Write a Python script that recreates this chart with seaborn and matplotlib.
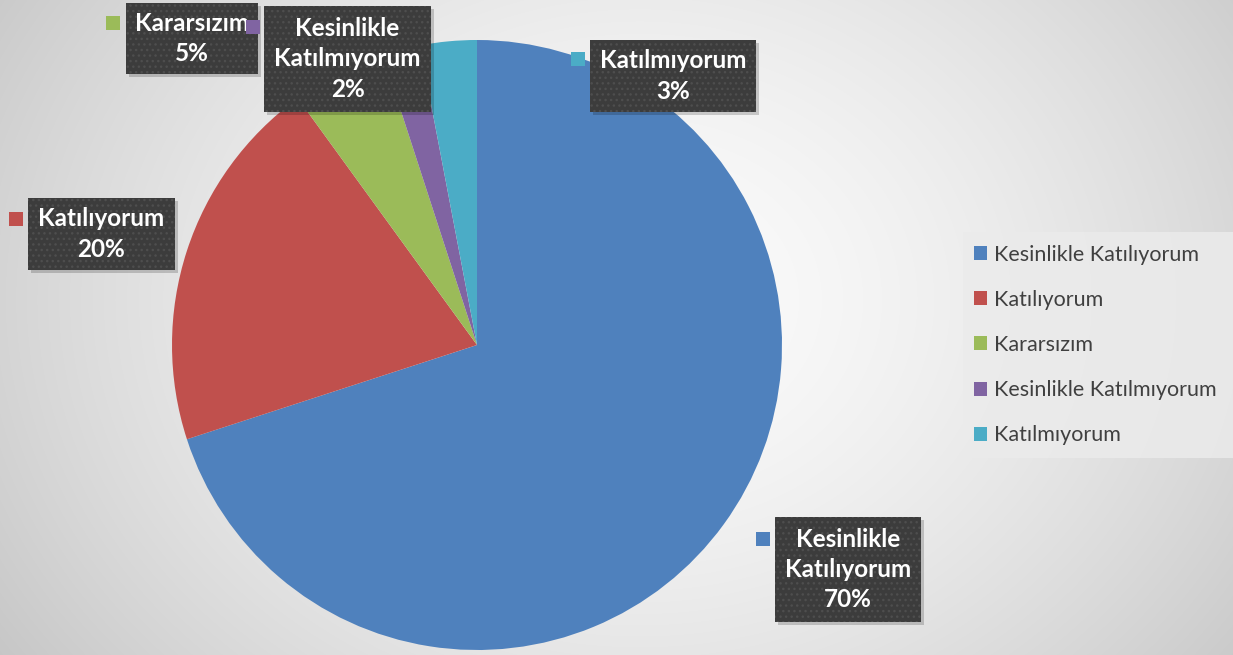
import numpy as np
import matplotlib
matplotlib.use("Agg")
import matplotlib.pyplot as plt
from matplotlib.patches import Rectangle, Patch
import seaborn as sns

# ---- data ----
categories = ["Kesinlikle Katılıyorum", "Katılıyorum", "Kararsızım",
              "Kesinlikle Katılmıyorum", "Katılmıyorum"]
values = [70, 20, 5, 2, 3]
label_text = ["Kesinlikle\nKatılıyorum\n70%", "Katılıyorum\n20%", "Kararsızım\n5%",
              "Kesinlikle\nKatılmıyorum\n2%", "Katılmıyorum\n3%"]
colors = ["#4F81BD", "#C0504D", "#9BBB59", "#8064A2", "#4BACC6"]

# ---- layout (pixel coords, origin top-left) ----
W, H = 1233, 655
pie_center = (477, 345)
pie_radius = 305
# label boxes: (x0, y0, x1, y1)
label_boxes = [(775, 517, 921, 622), (28, 198, 175, 270), (126, 3, 258, 74),
               (264, 6, 431, 112), (590, 40, 756, 112)]
# marker squares: (x0, y0)
marker_pos = [(756, 532), (9, 212), (106, 16), (246, 20), (571, 52)]
marker_size = 14

sns.set_theme(style="white")
plt.rcParams["font.family"] = ["Lato", "DejaVu Sans"]

fig = plt.figure(figsize=(W / 100, H / 100), dpi=100)
ax = fig.add_axes([0, 0, 1, 1])

def Y(y):
    return H - y

# background radial gradient
xx, yy = np.meshgrid(np.arange(W) + 0.5, np.arange(H) + 0.5)
r = np.sqrt(((xx - 640) / 760) ** 2 + ((yy - 300) / 620) ** 2)
g = 0.985 - 0.20 * np.clip(r, 0, 1.3) ** 1.6
img = np.dstack([g, g, g])
ax.imshow(img, extent=(0, W, 0, H), origin="upper", zorder=0, interpolation="bilinear")

# pie
ax.pie(values, colors=colors, startangle=90, counterclock=False,
       center=(pie_center[0], Y(pie_center[1])), radius=pie_radius,
       wedgeprops=dict(linewidth=0), frame=True)

# label boxes
for (x0, y0, x1, y1), txt, (mx, my), c in zip(label_boxes, label_text, marker_pos, colors):
    # shadow
    ax.add_patch(Rectangle((x0 + 3, Y(y1) - 3), x1 - x0, y1 - y0,
                           facecolor="#000000", alpha=0.18, linewidth=0, zorder=3))
    ax.add_patch(Rectangle((x0, Y(y1)), x1 - x0, y1 - y0,
                           facecolor="#3c3c3c", edgecolor="#4e4e4e", hatch="...",
                           linewidth=0, zorder=4))
    ax.text((x0 + x1) / 2, Y((y0 + y1) / 2), txt, ha="center", va="center",
            color="white", fontsize=17.5, fontweight="bold", linespacing=1.38,
            zorder=5)
    ax.add_patch(Rectangle((mx, Y(my + marker_size)), marker_size, marker_size,
                           facecolor=c, linewidth=0, zorder=6))

# legend background
ax.add_patch(Rectangle((963, Y(458)), W - 963, 458 - 232, facecolor="#ebebeb",
                       alpha=0.85, linewidth=0, zorder=2))
handles = [Patch(facecolor=c, edgecolor="none", label=l) for c, l in zip(colors, categories)]
leg = ax.legend(handles=handles, loc="center left", bbox_to_anchor=(974 / W, 1 - 345 / H),
                frameon=False, fontsize=15.5, labelspacing=1.17, handlelength=0.62,
                handleheight=0.62, handletextpad=0.3, borderaxespad=0, borderpad=0)
for t in leg.get_texts():
    t.set_color("#404040")

ax.set_xlim(0, W)
ax.set_ylim(0, H)
ax.set_aspect("auto")
ax.axis("off")

fig.savefig("out.png", dpi=100)
